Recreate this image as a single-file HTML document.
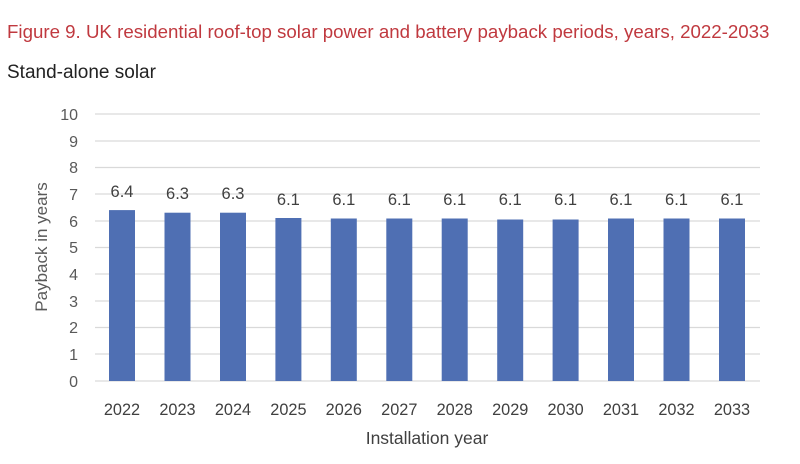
<!DOCTYPE html>
<html><head><meta charset="utf-8"><style>
body{margin:0;background:#fff;width:800px;height:459px;overflow:hidden;font-family:"Liberation Sans",sans-serif}
</style></head><body>
<svg width="800" height="459" xmlns="http://www.w3.org/2000/svg" font-family="Liberation Sans, sans-serif">
<text x="7" y="38" font-size="18.7" fill="#c0393f">Figure 9. UK residential roof-top solar power and battery payback periods, years, 2022-2033</text>
<text x="7" y="78" font-size="19" fill="#222">Stand-alone solar</text>
<g stroke="#d9d9d9" stroke-width="1.3">
<line x1="95" x2="760" y1="114" y2="114"/><line x1="95" x2="760" y1="141" y2="141"/><line x1="95" x2="760" y1="167.5" y2="167.5"/><line x1="95" x2="760" y1="194" y2="194"/><line x1="95" x2="760" y1="221" y2="221"/><line x1="95" x2="760" y1="247.5" y2="247.5"/><line x1="95" x2="760" y1="274" y2="274"/><line x1="95" x2="760" y1="301" y2="301"/><line x1="95" x2="760" y1="327.5" y2="327.5"/><line x1="95" x2="760" y1="354" y2="354"/><line x1="95" x2="760" y1="381" y2="381"/>
</g>
<g font-size="16" fill="#595959" text-anchor="end">
<text x="78" y="120">10</text><text x="78" y="147">9</text><text x="78" y="173">8</text><text x="78" y="200">7</text><text x="78" y="227">6</text><text x="78" y="253">5</text><text x="78" y="280">4</text><text x="78" y="307">3</text><text x="78" y="333">2</text><text x="78" y="360">1</text><text x="78" y="387">0</text>
</g>
<text transform="translate(47,247) rotate(-90)" font-size="17" fill="#595959" text-anchor="middle">Payback in years</text>
<g fill="#4f6fb3">
<rect x="109" y="210.1" width="26" height="170.9"/>
<rect x="164.5" y="212.7" width="26" height="168.3"/>
<rect x="220" y="212.7" width="26" height="168.3"/>
<rect x="275.4" y="218" width="26" height="163"/>
<rect x="330.8" y="218.5" width="26" height="162.5"/>
<rect x="386.3" y="218.5" width="26" height="162.5"/>
<rect x="441.7" y="218.5" width="26" height="162.5"/>
<rect x="497.2" y="219.5" width="26" height="161.5"/>
<rect x="552.6" y="219.5" width="26" height="161.5"/>
<rect x="608" y="218.5" width="26" height="162.5"/>
<rect x="663.5" y="218.5" width="26" height="162.5"/>
<rect x="719" y="218.5" width="26" height="162.5"/>
</g>
<g font-size="16.5" fill="#404040" text-anchor="middle">
<text x="122" y="197">6.4</text><text x="177.5" y="199">6.3</text><text x="233" y="199">6.3</text><text x="288.4" y="205">6.1</text><text x="343.8" y="205">6.1</text><text x="399.3" y="205">6.1</text><text x="454.7" y="205">6.1</text><text x="510.2" y="205">6.1</text><text x="565.6" y="205">6.1</text><text x="621" y="205">6.1</text><text x="676.5" y="205">6.1</text><text x="732" y="205">6.1</text>
</g>
<g font-size="16.3" fill="#404040" text-anchor="middle">
<text x="122" y="415">2022</text><text x="177.5" y="415">2023</text><text x="233" y="415">2024</text><text x="288.4" y="415">2025</text><text x="343.8" y="415">2026</text><text x="399.3" y="415">2027</text><text x="454.7" y="415">2028</text><text x="510.2" y="415">2029</text><text x="565.6" y="415">2030</text><text x="621" y="415">2031</text><text x="676.5" y="415">2032</text><text x="732" y="415">2033</text>
</g>
<text x="427" y="444" font-size="17.5" fill="#404040" text-anchor="middle">Installation year</text>
</svg>
</body></html>
